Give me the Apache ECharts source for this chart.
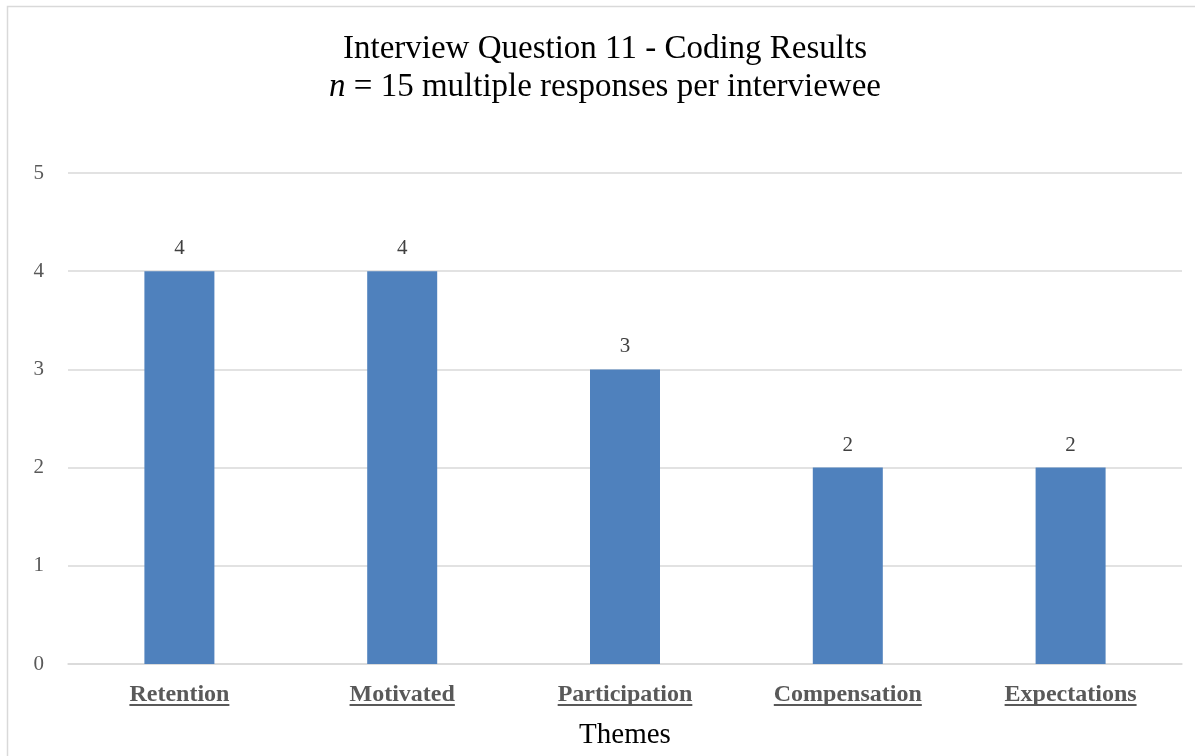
<!DOCTYPE html>
<html>
<head>
<meta charset="utf-8">
<title>Interview Question 11 - Coding Results</title>
<script src="https://cdn.jsdelivr.net/npm/echarts@6/dist/echarts.min.js"></script>
<style>
  html, body { margin: 0; padding: 0; background: #fff; }
  #chart { width: 1195px; height: 756px; }
</style>
</head>
<body>
<div id="chart"></div>
<script>
// 主题（横轴类别）
const themes = ['Retention', 'Motivated', 'Participation', 'Compensation', 'Expectations'];
// 每个主题的回答数
const counts = [4, 4, 3, 2, 2];
// y轴刻度
const yTicks = [0, 1, 2, 3, 4, 5];

const serif = '"Liberation Serif", "DejaVu Serif", serif';
const gray = '#595959';
const labelSize = 24;
const labelMargin = 19;

const myChart = echarts.init(document.getElementById('chart'));

const options = {
    animation: false,
    title: {
        text: 'Interview Question 11 - Coding Results\n{i|n} = 15 multiple responses per interviewee',
        left: 600,
        textAlign: 'center',
        top: 25,
        textStyle: {
            fontFamily: serif,
            fontSize: 33,
            fontWeight: 'normal',
            color: '#000',
            lineHeight: 38,
            rich: {
                i: { fontFamily: serif, fontSize: 33, fontStyle: 'italic', color: '#000' }
            }
        }
    },
    grid: {
        left: 68,
        right: 13,
        top: 173,
        bottom: 92,
        containLabel: false,
        outerBoundsMode: 'none'
    },
    xAxis: {
        type: 'category',
        data: themes,
        name: 'Themes',
        nameLocation: 'middle',
        nameGap: 57,
        nameTextStyle: { fontFamily: serif, fontSize: 29, color: '#000' },
        axisLine: { lineStyle: { color: '#d9d9d9', width: 1.5 } },
        axisTick: { show: false },
        axisLabel: {
            margin: labelMargin,
            fontFamily: serif,
            fontSize: labelSize,
            fontWeight: 'bold',
            color: gray
        }
    },
    yAxis: {
        type: 'value',
        min: yTicks[0],
        max: yTicks[yTicks.length - 1],
        interval: 1,
        axisLine: { show: false },
        axisTick: { show: false },
        axisLabel: {
            margin: 24,
            fontFamily: serif,
            fontSize: 21,
            color: gray
        },
        splitLine: { lineStyle: { color: '#d9d9d9', width: 1.5 } }
    },
    series: [
        {
            type: 'bar',
            data: counts,
            barWidth: 70,
            itemStyle: { color: '#4f81bd' },
            label: {
                show: true,
                position: 'top',
                distance: 12,
                fontFamily: serif,
                fontSize: 21,
                color: '#404040'
            }
        }
    ]
};

myChart.setOption(options);

// 边框 + 横轴标签下划线（ECharts 文字没有下划线，按文字宽度补画）
const ctx = document.createElement('canvas').getContext('2d');
ctx.font = 'bold ' + labelSize + 'px ' + serif;
const axisY = myChart.convertToPixel({ yAxisIndex: 0 }, 0);
const lineY = axisY + labelMargin + labelSize * 0.92;
const extras = [
    {
        type: 'rect',
        shape: { x: 7.5, y: 6.5, width: 1200, height: 760 },
        style: { fill: 'none', stroke: '#d9d9d9', lineWidth: 1.5 },
        silent: true
    }
];
themes.forEach((name) => {
    const cx = myChart.convertToPixel({ xAxisIndex: 0 }, name);
    const w = ctx.measureText(name).width;
    extras.push({
        type: 'line',
        shape: { x1: cx - w / 2, y1: lineY, x2: cx + w / 2, y2: lineY },
        style: { stroke: gray, lineWidth: 2 },
        silent: true
    });
});
myChart.setOption({ graphic: extras });
</script>
</body>
</html>
